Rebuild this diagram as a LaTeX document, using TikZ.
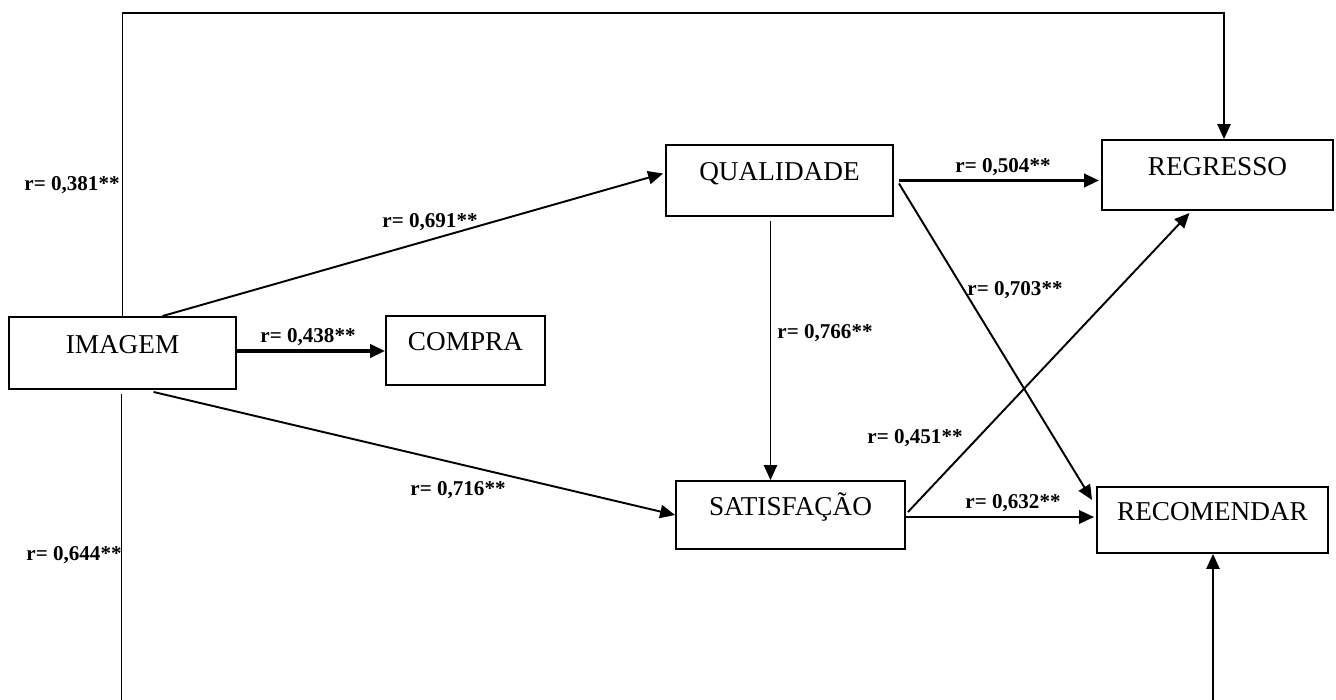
\documentclass[tikz,border=0pt]{standalone}
\usepackage{fontspec}
\setmainfont{Liberation Serif}
\usetikzlibrary{calc}
\usetikzlibrary{arrows.meta}

\begin{document}
\begin{tikzpicture}[x=0.02cm, y=-0.02cm,
		box/.style={draw, line width=1.1pt, rectangle, inner sep=0pt, text height=1em, text depth=1em, font=\fontsize{15.5}{18}\selectfont},
		coef/.style={font=\fontsize{12}{14}\selectfont\bfseries, inner sep=1pt},
		link/.style={line width=1.1pt, -{Triangle[length=8.5pt, width=7.5pt]}},
		strong/.style={line width=1.8pt, -{Triangle[length=8.5pt, width=7.5pt]}}]
		\useasboundingbox (0, 0) rectangle (1336, 700);

		\node[box, minimum width=4.54cm, minimum height=1.44cm] (imagem) at (122.5, 353) {IMAGEM};
		\node[box, minimum width=3.18cm, minimum height=1.38cm] (compra) at (465.5, 350.5) {COMPRA};
		\node[box, minimum width=4.54cm, minimum height=1.42cm] (qualidade) at (779.5, 180.5) {QUALIDADE};
		\node[box, minimum width=4.58cm, minimum height=1.36cm] (satisfacao) at (790.5, 515) {SATISFAÇÃO};
		\node[box, minimum width=4.62cm, minimum height=1.40cm] (regresso) at (1217.5, 175) {REGRESSO};
		\node[box, minimum width=4.62cm, minimum height=1.32cm] (recomendar) at (1212.5, 520) {RECOMENDAR};

		\coordinate (top1) at (122.5, 13);
		\coordinate (top2) at (1224, 13);
		\coordinate (bot1) at (121.5, 700);
		\coordinate (bot2) at (1213, 700);

		% imagem to the others
		\draw[link] ($(imagem.north)+(40,0)$) -- ($(qualidade.west)+(-2,-7)$);
		\draw[strong] ($(imagem.east)+(0,-2)$) -- ($(imagem.east -| compra.west)+(0,-2)$);
		\draw[link] ($(imagem.south)+(31,2)$) -- (satisfacao.west);
		\draw[link] (imagem.north) -- (top1) -- (top2) -- (top2 |- regresso.north);
		\draw[line width=1.1pt] ($(imagem.south)+(-1,4)$) -- (bot1);

		% qualidade
		\draw[strong] ($(qualidade.east)+(5,0)$) -- ($(qualidade.east -| regresso.west)+(-2,0)$);
		\draw[link] ($(qualidade.east)+(5,3)$) -- ($(recomendar.west)+(-4,-20)$);
		\draw[link] ($(qualidade.south)+(-9,4)$) -- ($(qualidade.south |- satisfacao.north)+(-9,0)$);

		% satisfacao
		\draw[link] ($(satisfacao.east)+(2,-3)$) -- ($(regresso.south)+(-28,2)$);
		\draw[strong, line width=1.4pt] ($(satisfacao.east)+(0,2)$) -- ($(satisfacao.east -| recomendar.west)+(-2,2)$);

		% recomendar from below
		\draw[link] (bot2) -- (bot2 |- recomendar.south);

		\node[coef] (r381) at (72, 185) {r= 0,381**};
		\node[coef] (r644) at (74, 555) {r= 0,644**};
		\node[coef] (r438) at (308, 337) {r= 0,438**};
		\node[coef] (r691) at (430, 222) {r= 0,691**};
		\node[coef] (r716) at (458, 490) {r= 0,716**};
		\node[coef] (r504) at (1003, 167) {r= 0,504**};
		\node[coef] (r703) at (1015, 290) {r= 0,703**};
		\node[coef] (r766) at (825, 333) {r= 0,766**};
		\node[coef] (r451) at (915, 438) {r= 0,451**};
		\node[coef] (r632) at (1013, 503) {r= 0,632**};
	\end{tikzpicture}
\end{document}
